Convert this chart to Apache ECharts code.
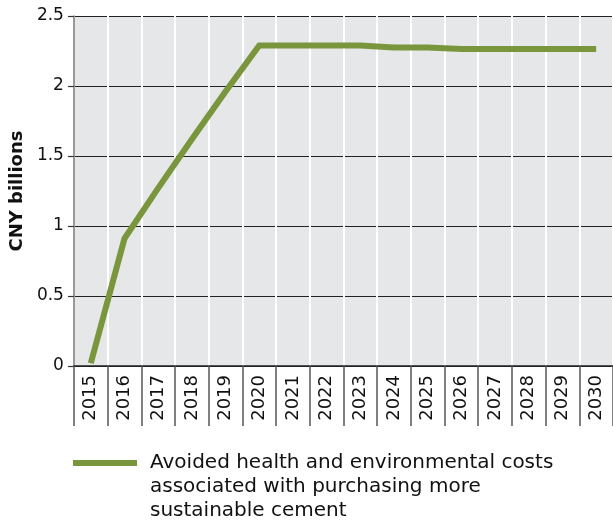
<!DOCTYPE html>
<html>
<head>
<meta charset="utf-8">
<script src="https://cdn.jsdelivr.net/npm/echarts@6/dist/echarts.min.js"></script>
<style>
  html, body { margin: 0; padding: 0; background: #fff; }
  #chart { width: 613px; height: 525px; }
</style>
</head>
<body>
<div id="chart"></div>
<script>
// 数据
const years = ['2015', '2016', '2017', '2018', '2019', '2020', '2021', '2022',
  '2023', '2024', '2025', '2026', '2027', '2028', '2029', '2030'];
const avoidedCosts = [0.02, 0.91, 1.27, 1.62, 1.96, 2.29, 2.29, 2.29,
  2.29, 2.275, 2.275, 2.265, 2.265, 2.265, 2.265, 2.265];
const seriesName = 'Avoided health and environmental costs\nassociated with purchasing more\nsustainable cement';

const green = '#7a963d';
const font = '"DejaVu Sans", "Noto Sans", sans-serif';

const chart = echarts.init(document.getElementById('chart'));
chart.setOption({
  animation: false,
  textStyle: { fontFamily: font },
  grid: { left: 73.5, right: 0, top: 16, bottom: 159, backgroundColor: '#e6e7e8', show: true, borderWidth: 0 },
  xAxis: {
    type: 'category',
    data: years,
    boundaryGap: true,
    axisLine: { lineStyle: { color: '#222', width: 1.5 } },
    axisTick: { show: true, interval: 0, length: 60, lineStyle: { color: '#555', width: 1.5 } },
    axisLabel: { rotate: 90, interval: 0, fontSize: 18, color: '#111', margin: 9, fontFamily: font },
    splitLine: { show: true, interval: 0, lineStyle: { color: '#ffffff', width: 2 } }
  },
  yAxis: {
    type: 'value',
    min: 0,
    max: 2.5,
    interval: 0.5,
    name: 'CNY billions',
    nameLocation: 'middle',
    nameGap: 46,
    nameTextStyle: { fontSize: 18, fontWeight: 'bold', color: '#111', fontFamily: font },
    axisLine: { show: true, lineStyle: { color: '#777', width: 1.5 } },
    axisTick: { show: true, length: 6, lineStyle: { color: '#333', width: 1.2 } },
    axisLabel: { fontSize: 17, color: '#111', margin: 10, fontFamily: font },
    splitLine: { show: true, lineStyle: { color: '#222', width: 1.2 } }
  },
  series: [{
    name: seriesName,
    type: 'line',
    data: avoidedCosts,
    symbol: 'none',
    lineStyle: { color: green, width: 6, cap: 'butt', join: 'miter' }
  }],
  graphic: [
    { type: 'rect', left: 73, top: 460, shape: { width: 64, height: 6 }, style: { fill: green } },
    {
      type: 'text', left: 150, top: 451,
      style: { text: seriesName, fontSize: 20, lineHeight: 24, fill: '#111', fontFamily: font }
    }
  ]
});
</script>
</body>
</html>
